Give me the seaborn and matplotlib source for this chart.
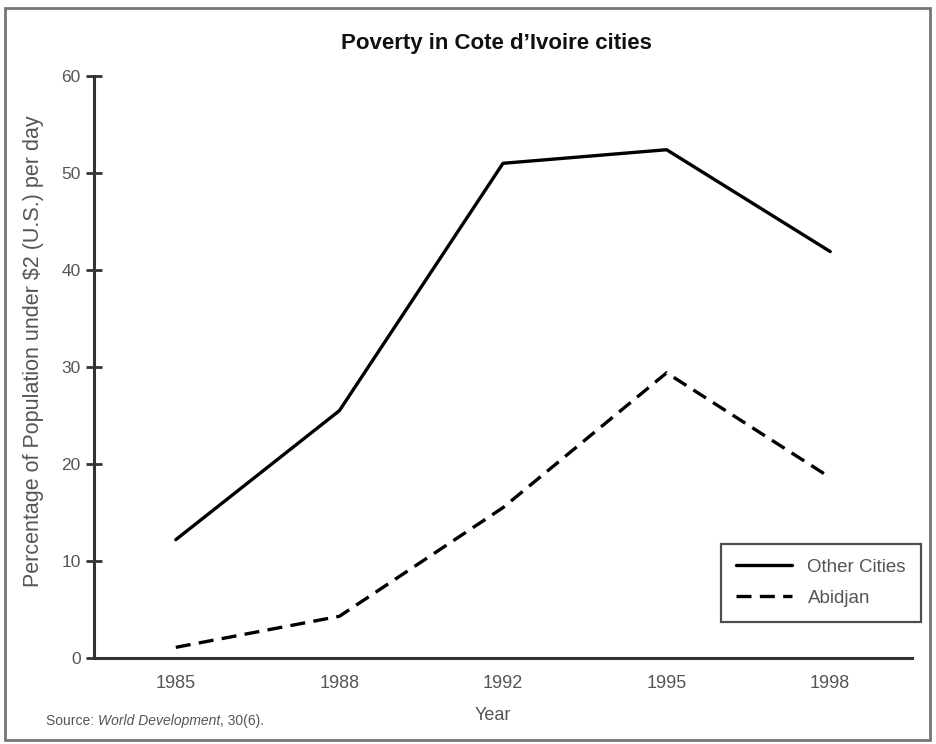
import pandas as pd
import matplotlib.pyplot as plt
import seaborn as sns
from matplotlib.patches import Rectangle

years = ['1985', '1988', '1992', '1995', '1998']
other_cities = [12.2, 25.5, 51.0, 52.4, 41.9]
abidjan = [1.1, 4.3, 15.5, 29.4, 18.6]

sns.set_style("white")
plt.rcParams['font.family'] = ['Liberation Sans', 'DejaVu Sans']

df = pd.DataFrame({
    'pos': list(range(len(years))) * 2,
    'value': other_cities + abidjan,
    'city': ['Other Cities'] * len(years) + ['Abidjan'] * len(years),
})

fig = plt.figure(figsize=(9.36, 7.44), dpi=100)
ax = fig.add_axes([94 / 936, 1 - 658 / 744, 818 / 936, 582 / 744])

sns.lineplot(data=df, x='pos', y='value', style='city',
             dashes={'Other Cities': '', 'Abidjan': (4.5, 2.5)},
             color='black', linewidth=2.4, ax=ax)

ax.set_xlim(-0.5, 4.5)
ax.set_ylim(0, 60)
ax.set_xticks(range(len(years)))
ax.set_xticklabels(years)
ax.set_yticks(range(0, 61, 10))
ax.tick_params(axis='y', left=True, direction='inout', length=11, width=2,
               color='#333333', labelsize=12.5, labelcolor='#555555', pad=4)
ax.tick_params(axis='x', bottom=False, length=0, labelsize=13,
               labelcolor='#555555', pad=12)

for s in ['top', 'right']:
    ax.spines[s].set_visible(False)
for s in ['left', 'bottom']:
    ax.spines[s].set_color('#333333')
    ax.spines[s].set_linewidth(2.2)

ax.set_xlabel('')
ax.set_ylabel('Percentage of Population under $2 (U.S.) per day',
              fontsize=15.5, color='#555555')
ax.yaxis.set_label_coords(-0.061, 0.527)

leg = ax.legend(loc='lower right', bbox_to_anchor=(1.011, 0.062), borderaxespad=0,
                fontsize=13.5, frameon=True, fancybox=False, handlelength=3.0,
                borderpad=0.8, labelspacing=0.75, handletextpad=0.8)
leg.get_frame().set_edgecolor('#222222')
leg.get_frame().set_linewidth(1.6)
for t in leg.get_texts():
    t.set_color('#555555')

fig.text(493 / 936, 1 - 715 / 744, 'Year', ha='center', va='center',
         fontsize=13, color='#555555')
fig.text(496 / 936, 1 - 44 / 744, 'Poverty in Cote d\u2019Ivoire cities', ha='center',
         va='center', fontsize=16, fontweight='bold', color='#111111')

t1 = fig.text(46 / 936, 1 - 721 / 744, 'Source: ', ha='left', va='center',
              fontsize=10, color='#555555')
t2 = ax.annotate('World Development', xy=(1, 0), xycoords=t1, va='bottom',
                 fontsize=10, color='#555555', style='italic')
ax.annotate(', 30(6).', xy=(1, 0), xycoords=t2, va='bottom',
            fontsize=10, color='#555555')

fig.patches.append(Rectangle((5 / 936, 1 - 740 / 744), 925 / 936, 732 / 744,
                             transform=fig.transFigure, fill=False,
                             edgecolor='#777777', linewidth=2))

fig.savefig('out.png', dpi=100)
